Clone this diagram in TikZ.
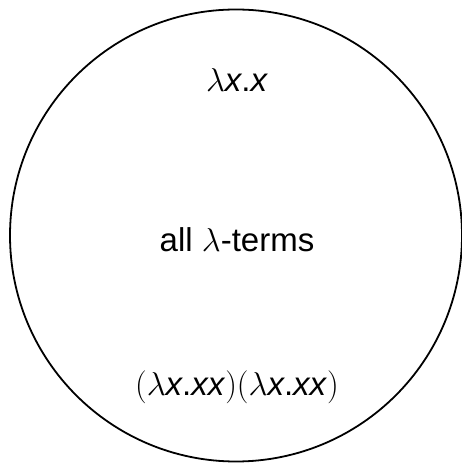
\RequirePackage{fix-cm}
\documentclass[tikz,border=0pt]{standalone}
\usepackage{fontspec}
\setmainfont{Liberation Sans}
\begin{document}
\begin{tikzpicture}[x=1pt,y=1pt,
  lbl/.style={font=\fontsize{33}{38}\selectfont, inner sep=0pt, anchor=base}]
\useasboundingbox (0,0) rectangle (462,463);
\draw[line width=1.8pt] (236,227.5) circle[radius=226];
\node[lbl] (top) at (237,371) {$\lambda$\textit{x}.\textit{x}};
\node[lbl] (mid) at (237,211) {all $\lambda$-terms};
\node[lbl] (bot) at (237,67) {$(\lambda$\textit{x}.\textit{xx}$)(\lambda$\textit{x}.\textit{xx}$)$};
\end{tikzpicture}
\end{document}
